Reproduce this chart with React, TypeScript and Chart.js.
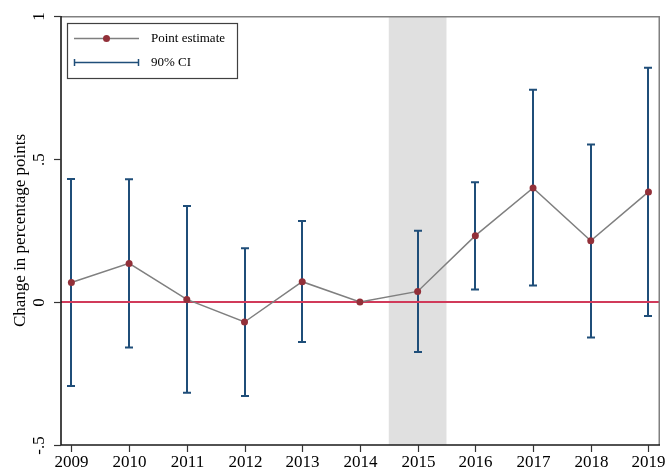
import React, { useEffect, useRef } from "react";
import { Chart, registerables } from "chart.js";

Chart.register(...registerables);

const years = [2009, 2010, 2011, 2012, 2013, 2014, 2015, 2016, 2017, 2018, 2019];
const estimates = [0.068, 0.135, 0.009, -0.07, 0.071, 0, 0.037, 0.232, 0.399, 0.214, 0.385];
const ciLower = [-0.294, -0.159, -0.317, -0.329, -0.14, null, -0.175, 0.044, 0.058, -0.124, -0.049];
const ciUpper = [0.43, 0.429, 0.336, 0.188, 0.283, null, 0.249, 0.419, 0.742, 0.551, 0.819];
const yTicks = [-0.5, 0, 0.5, 1];
const yTickLabels = ["-.5", "0", ".5", "1"];
const shadedYear = 2015;
const yTitle = "Change in percentage points";
const legendLabels = ["Point estimate", "90% CI"];

const FONT = "'Liberation Serif', 'Times New Roman', serif";
const C_LINE = "#7f7f7f";
const C_POINT = "#923039";
const C_CI = "#1f4e79";
const C_ZERO = "#d13a5a";
const C_SHADE = "#e0e0e0";

const overlayPlugin = {
  id: "overlay",
  beforeDatasetsDraw(chart: any) {
    const { ctx, chartArea, scales } = chart;
    const xs = scales.x;
    const ys = scales.y;
    ctx.save();
    // shaded year
    const x0 = xs.getPixelForValue(shadedYear - 0.5);
    const x1 = xs.getPixelForValue(shadedYear + 0.5);
    ctx.fillStyle = C_SHADE;
    ctx.fillRect(x0, chartArea.top, x1 - x0, chartArea.bottom - chartArea.top);
    // error bars
    ctx.strokeStyle = C_CI;
    ctx.lineWidth = 2;
    years.forEach((yr, i) => {
      const lo = ciLower[i];
      const hi = ciUpper[i];
      if (lo === null || hi === null) return;
      const px = Math.round(xs.getPixelForValue(yr));
      const pl = ys.getPixelForValue(lo);
      const ph = ys.getPixelForValue(hi);
      ctx.beginPath();
      ctx.moveTo(px, pl);
      ctx.lineTo(px, ph);
      ctx.moveTo(px - 4, pl);
      ctx.lineTo(px + 4, pl);
      ctx.moveTo(px - 4, ph);
      ctx.lineTo(px + 4, ph);
      ctx.stroke();
    });
    // zero line
    const zy = ys.getPixelForValue(0);
    ctx.strokeStyle = C_ZERO;
    ctx.lineWidth = 1.8;
    ctx.beginPath();
    ctx.moveTo(chartArea.left, zy);
    ctx.lineTo(chartArea.right, zy);
    ctx.stroke();
    ctx.restore();
  },
  afterDatasetsDraw(chart: any) {
    const { ctx, chartArea, scales } = chart;
    const xs = scales.x;
    const ys = scales.y;
    const { left, right, top, bottom } = chartArea;
    ctx.save();
    // gray frame top/right
    ctx.strokeStyle = "#808080";
    ctx.lineWidth = 1.5;
    ctx.beginPath();
    ctx.moveTo(left, top + 0.75);
    ctx.lineTo(right - 0.75, top + 0.75);
    ctx.lineTo(right - 0.75, bottom);
    ctx.stroke();
    // axes
    ctx.strokeStyle = "#1a1a1a";
    ctx.lineWidth = 1.6;
    ctx.beginPath();
    ctx.moveTo(left, top);
    ctx.lineTo(left, bottom);
    ctx.lineTo(right, bottom);
    ctx.stroke();
    // x ticks & labels
    ctx.fillStyle = "#000";
    ctx.font = `17px ${FONT}`;
    ctx.textAlign = "center";
    ctx.textBaseline = "middle";
    ctx.lineWidth = 1.2;
    ctx.strokeStyle = "#333";
    years.forEach((yr) => {
      const px = Math.round(xs.getPixelForValue(yr)) + 0.5;
      ctx.beginPath();
      ctx.moveTo(px, bottom);
      ctx.lineTo(px, bottom + 7);
      ctx.stroke();
      ctx.fillText(String(yr), px, bottom + 18);
    });
    // y ticks & rotated labels
    yTicks.forEach((v, i) => {
      const py = Math.round(ys.getPixelForValue(v)) + 0.5;
      ctx.beginPath();
      ctx.moveTo(left - 7, py);
      ctx.lineTo(left, py);
      ctx.stroke();
      ctx.save();
      ctx.translate(left - 21, py);
      ctx.rotate(-Math.PI / 2);
      ctx.textAlign = "center";
      ctx.textBaseline = "middle";
      ctx.fillText(yTickLabels[i], 0, 0);
      ctx.restore();
    });
    // y title
    ctx.save();
    ctx.translate(21, (top + bottom) / 2);
    ctx.rotate(-Math.PI / 2);
    ctx.textAlign = "center";
    ctx.textBaseline = "middle";
    ctx.font = `17px ${FONT}`;
    ctx.fillText(yTitle, 0, 0);
    ctx.restore();
    // legend
    const bx = 67, by = 23, bw = 170, bh = 55;
    ctx.fillStyle = "#fff";
    ctx.fillRect(bx, by, bw, bh);
    ctx.strokeStyle = "#404040";
    ctx.lineWidth = 1.2;
    ctx.strokeRect(bx + 0.5, by + 0.5, bw, bh);
    // entry 1
    ctx.strokeStyle = C_LINE;
    ctx.lineWidth = 1.5;
    ctx.beginPath();
    ctx.moveTo(74, 38.5);
    ctx.lineTo(139, 38.5);
    ctx.stroke();
    ctx.fillStyle = C_POINT;
    ctx.beginPath();
    ctx.arc(106.5, 38.5, 3.5, 0, Math.PI * 2);
    ctx.fill();
    // entry 2
    ctx.strokeStyle = C_CI;
    ctx.lineWidth = 1.5;
    ctx.beginPath();
    ctx.moveTo(74.5, 62.5);
    ctx.lineTo(138.5, 62.5);
    ctx.moveTo(74.5, 59);
    ctx.lineTo(74.5, 66);
    ctx.moveTo(138.5, 59);
    ctx.lineTo(138.5, 66);
    ctx.stroke();
    ctx.fillStyle = "#000";
    ctx.font = `13px ${FONT}`;
    ctx.textAlign = "left";
    ctx.textBaseline = "middle";
    ctx.fillText(legendLabels[0], 151, 38.5);
    ctx.fillText(legendLabels[1], 151, 62.5);
    ctx.restore();
  },
};

export default function App() {
  const ref = useRef<HTMLCanvasElement | null>(null);
  useEffect(() => {
    if (!ref.current) return;
    const chart = new Chart(ref.current, {
      type: "line",
      data: {
        datasets: [
          {
            label: legendLabels[0],
            data: years.map((x, i) => ({ x, y: estimates[i] })),
            borderColor: C_LINE,
            borderWidth: 1.5,
            pointBackgroundColor: C_POINT,
            pointBorderColor: C_POINT,
            pointRadius: 3.5,
            pointBorderWidth: 0,
            tension: 0,
            fill: false,
          },
        ],
      },
      options: {
        responsive: false,
        animation: false,
        events: [],
        layout: { padding: { left: 61, top: 16, right: 7, bottom: 28 }, autoPadding: false },
        plugins: { legend: { display: false }, tooltip: { enabled: false } },
        scales: {
          x: { type: "linear", display: false, min: 2008.82, max: 2019.2 },
          y: { type: "linear", display: false, min: -0.5, max: 1 },
        },
      },
      plugins: [overlayPlugin],
    });
    return () => chart.destroy();
  }, []);
  return (
    <div style={{ position: "fixed", left: 0, top: 0, width: 667, height: 473, background: "#fff" }}>
      <canvas ref={ref} width={667} height={473} />
    </div>
  );
}
